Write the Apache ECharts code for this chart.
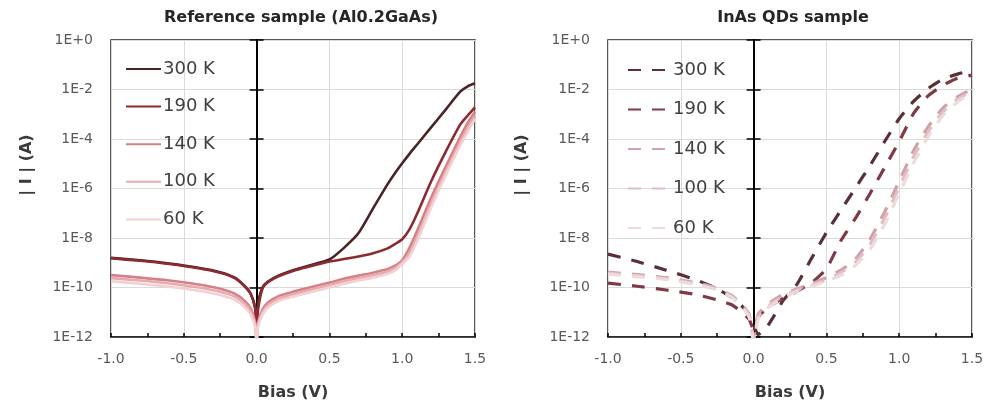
<!DOCTYPE html>
<html>
<head>
<meta charset="utf-8">
<script src="https://cdn.jsdelivr.net/npm/echarts@6/dist/echarts.min.js"></script>
<style>
html,body{margin:0;padding:0;background:#ffffff;}
#chart{width:989px;height:412px;}
</style>
</head>
<body>
<div id="chart"></div>
<script>
// ---------- texts ----------
const panelTitles = ['Reference sample (Al0.2GaAs)', 'InAs QDs sample'];
const xAxisName = 'Bias (V)';
const yAxisName = '| I | (A)';
const tempLabels = ['300 K', '190 K', '140 K', '100 K', '60 K'];

// ---------- left panel: reference sample (bias in V, |I| in A) ----------
const biasRef = [-1.0, -0.8, -0.6, -0.4, -0.25, -0.15, -0.08, -0.04, -0.01, 0.0,
  0.01, 0.04, 0.08, 0.15, 0.25, 0.35, 0.5, 0.6, 0.7, 0.8,
  0.9, 0.95, 1.0, 1.05, 1.1, 1.2, 1.3, 1.4, 1.45, 1.5];
const ref300 = [1.58e-9, 1.26e-9, 9.33e-10, 6.31e-10, 4.17e-10, 2.51e-10, 1.12e-10, 5.62e-11, 1.58e-11, 2.51e-12,
  2.51e-11, 1.0e-10, 1.78e-10, 3.02e-10, 5.01e-10, 7.41e-10, 1.35e-9, 3.98e-9, 1.58e-8, 1.58e-7,
  1.51e-6, 4.17e-6, 1.05e-5, 2.51e-5, 5.75e-5, 3.02e-4, 1.58e-3, 8.32e-3, 1.35e-2, 1.78e-2];
const ref190 = [1.51e-9, 1.2e-9, 8.91e-10, 6.03e-10, 3.98e-10, 2.4e-10, 1.07e-10, 5.37e-11, 1.41e-11, 2.0e-12,
  1.26e-11, 8.91e-11, 1.66e-10, 2.82e-10, 4.68e-10, 6.76e-10, 1.12e-9, 1.41e-9, 1.78e-9, 2.4e-9,
  3.8e-9, 5.62e-9, 8.91e-9, 2.24e-8, 8.91e-8, 2.0e-6, 3.16e-5, 3.98e-4, 8.91e-4, 1.91e-3];
const ref140 = [3.16e-10, 2.51e-10, 1.91e-10, 1.32e-10, 8.91e-11, 5.62e-11, 2.82e-11, 1.41e-11, 3.98e-12, 7.94e-13,
  3.98e-12, 1.26e-11, 2.51e-11, 4.47e-11, 6.76e-11, 9.55e-11, 1.58e-10, 2.24e-10, 3.02e-10, 3.98e-10,
  5.62e-10, 7.59e-10, 1.26e-9, 3.98e-9, 1.78e-8, 4.47e-7, 7.94e-6, 1.26e-4, 4.47e-4, 1.26e-3];
const ref100 = [2.4e-10, 1.91e-10, 1.45e-10, 1.0e-10, 6.76e-11, 4.27e-11, 2.14e-11, 1.07e-11, 3.16e-12, 6.31e-13,
  3.16e-12, 1.0e-11, 2.0e-11, 3.55e-11, 5.37e-11, 7.59e-11, 1.26e-10, 1.78e-10, 2.4e-10, 3.16e-10,
  4.47e-10, 6.03e-10, 1.05e-9, 2.51e-9, 1.0e-8, 2.51e-7, 5.01e-6, 7.94e-5, 2.82e-4, 8.91e-4];
const ref60 = [1.78e-10, 1.41e-10, 1.07e-10, 7.41e-11, 5.01e-11, 3.16e-11, 1.58e-11, 7.94e-12, 2.51e-12, 5.01e-13,
  2.51e-12, 7.94e-12, 1.58e-11, 2.82e-11, 4.27e-11, 6.03e-11, 1.0e-10, 1.41e-10, 1.91e-10, 2.51e-10,
  3.55e-10, 4.79e-10, 8.91e-10, 1.78e-9, 7.08e-9, 1.78e-7, 3.55e-6, 5.62e-5, 2.0e-4, 6.31e-4];

// ---------- right panel: InAs QDs sample ----------
const biasQD = [-1.0, -0.8, -0.6, -0.4, -0.25, -0.15, -0.08, -0.03, 0.0,
  0.03, 0.08, 0.14, 0.2, 0.3, 0.4, 0.5, 0.6, 0.7, 0.8, 0.9, 1.0, 1.1, 1.2, 1.3, 1.4, 1.5];
const qd300 = [2.24e-9, 1.12e-9, 5.01e-10, 2.09e-10, 8.91e-11, 3.98e-11, 1.78e-11, 7.94e-12, 3.16e-12,
  1.26e-12, 2.0e-12, 7.08e-12, 2.82e-11, 1.41e-10, 1.58e-9, 1.66e-8, 1.35e-7, 1.05e-6, 8.51e-6, 7.94e-5,
  6.61e-4, 3.39e-3, 1.12e-2, 2.63e-2, 4.17e-2, 6.03e-2];
const qd190 = [1.51e-10, 1.12e-10, 7.94e-11, 5.25e-11, 3.16e-11, 2.0e-11, 1.0e-11, 5.01e-12, 2.0e-12,
  6.31e-12, 1.26e-11, 2.24e-11, 3.55e-11, 7.08e-11, 1.58e-10, 5.62e-10, 7.94e-9, 6.31e-8, 6.31e-7, 7.08e-6,
  7.94e-5, 1.12e-3, 5.62e-3, 1.48e-2, 2.82e-2, 3.8e-2];
const qd140 = [4.17e-10, 3.31e-10, 2.51e-10, 1.58e-10, 9.33e-11, 4.68e-11, 2.09e-11, 7.94e-12, 1.0e-12,
  7.94e-12, 1.78e-11, 3.16e-11, 5.25e-11, 8.91e-11, 1.41e-10, 2.51e-10, 5.01e-10, 1.41e-9, 8.91e-9, 1.12e-7,
  2.0e-6, 3.55e-5, 3.16e-4, 1.78e-3, 5.01e-3, 1.05e-2];
const qd100 = [3.8e-10, 3.02e-10, 2.29e-10, 1.45e-10, 8.51e-11, 4.27e-11, 1.91e-11, 7.08e-12, 7.94e-13,
  6.31e-12, 1.41e-11, 2.63e-11, 4.47e-11, 7.94e-11, 1.26e-10, 2.09e-10, 3.98e-10, 1.05e-9, 5.62e-9, 6.31e-8,
  1.12e-6, 2.0e-5, 2.0e-4, 1.26e-3, 3.98e-3, 8.91e-3];
const qd60 = [3.47e-10, 2.75e-10, 2.09e-10, 1.32e-10, 7.94e-11, 3.98e-11, 1.74e-11, 6.31e-12, 6.31e-13,
  5.01e-12, 1.26e-11, 2.24e-11, 3.8e-11, 7.08e-11, 1.12e-10, 1.78e-10, 3.16e-10, 7.94e-10, 3.55e-9, 3.55e-8,
  6.31e-7, 1.12e-5, 1.26e-4, 8.91e-4, 3.16e-3, 7.59e-3];

// ---------- axis ranges / tick labels ----------
const xMin = -1.0, xMax = 1.5, xStep = 0.5;
const yMin = 1e-12, yMax = 1;                  // current range (A), log scale
const yExpMin = -12, yExpMax = 0, yExpStep = 2; // decade positions of tick labels (1E-12 ... 1E+0)

// ---------- styling ----------
const FONT = 'DejaVu Sans';
const refColors = ['#4a2326', '#8c2a31', '#d48086', '#e6abae', '#f4d0d2'];
const qdColors = ['#5a3037', '#7f3a46', '#cfa1a9', '#dfbdc3', '#eddadd'];

const refSeriesData = [ref300, ref190, ref140, ref100, ref60];
const qdSeriesData = [qd300, qd190, qd140, qd100, qd60];

function expLabel(e) {
  const n = Math.round(e);
  return '1E' + (n >= 0 ? '+' + Math.abs(n) : String(n));
}

function xAxisFor(gi) {
  return {
    gridIndex: gi, type: 'value', min: xMin, max: xMax, interval: xStep, position: 'bottom',
    axisLine: { show: true, onZero: false, lineStyle: { color: '#1f1f1f', width: 1.5 } },
    axisTick: { show: true, inside: true, length: 4, lineStyle: { color: '#000', width: 1.5 } },
    minorTick: { show: true, splitNumber: 2, length: 4, lineStyle: { color: '#000', width: 1.5 } },
    axisLabel: { formatter: v => v.toFixed(1), color: '#595959', fontSize: 14, margin: 15, fontFamily: FONT },
    splitLine: { show: true, lineStyle: { color: '#dadada', width: 1 } },
    name: xAxisName, nameLocation: 'middle', nameGap: 48,
    nameTextStyle: { fontWeight: 'bold', fontSize: 16, color: '#3a3a3a', fontFamily: FONT }
  };
}
// log axis that carries the data (drawn invisibly)
function yAxisData(gi) {
  return {
    gridIndex: gi, type: 'log', logBase: 10, min: yMin, max: yMax, position: 'left',
    axisLine: { show: false, onZero: false }, axisTick: { show: false },
    axisLabel: { show: false }, splitLine: { show: false }
  };
}
// decade axis used for labels and grid lines (same pixel mapping)
function yAxisLabels(gi) {
  return {
    gridIndex: gi, type: 'value', min: yExpMin, max: yExpMax, interval: yExpStep, position: 'left',
    axisLine: { show: false, onZero: false },
    axisTick: { show: false },
    axisLabel: { formatter: expLabel, color: '#595959', fontSize: 14, margin: 18, fontFamily: FONT },
    splitLine: { show: true, lineStyle: { color: '#dadada', width: 1 } }
  };
}
// vertical line at 0 V with crossing ticks
function yAxisZero(gi, xi, inside) {
  return {
    gridIndex: gi, type: 'value', min: yExpMin, max: yExpMax, interval: yExpStep, position: 'left',
    axisLine: { show: true, onZero: true, onZeroAxisIndex: xi, lineStyle: { color: '#000', width: 2 } },
    axisTick: { show: true, inside: inside, length: 7, lineStyle: { color: '#000', width: 1.5 } },
    axisLabel: { show: false },
    splitLine: { show: false }
  };
}

const series = [];
refSeriesData.forEach((arr, k) => {
  series.push({
    name: tempLabels[k], type: 'line', xAxisIndex: 0, yAxisIndex: 0,
    data: biasRef.map((b, i) => [b, arr[i]]),
    showSymbol: false, symbol: 'none', smooth: 0.2,
    lineStyle: { color: refColors[k], width: 2.6 }, itemStyle: { color: refColors[k] },
    z: 3
  });
});
qdSeriesData.forEach((arr, k) => {
  series.push({
    name: tempLabels[k] + ' ', type: 'line', xAxisIndex: 1, yAxisIndex: 4,
    data: biasQD.map((b, i) => [b, arr[i]]),
    showSymbol: false, symbol: 'none', smooth: 0.15,
    lineStyle: { color: qdColors[k], width: 3.2, type: [13, 11] }, itemStyle: { color: qdColors[k] },
    z: 3
  });
});

const legendText = { fontSize: 18, color: '#404040', fontFamily: FONT, padding: [0, 0, 0, -3] };

const gridBase = { top: 40, bottom: 75, show: true, borderColor: '#1f1f1f', borderWidth: 1.5,
  backgroundColor: 'transparent', containLabel: false, outerBoundsMode: 'none' };

const option = {
  animation: false,
  backgroundColor: '#ffffff',
  grid: [
    Object.assign({ left: 111, right: 514 }, gridBase),
    Object.assign({ left: 608, right: 17 }, gridBase)
  ],
  xAxis: [xAxisFor(0), xAxisFor(1)],
  yAxis: [yAxisData(0), yAxisLabels(0), yAxisZero(0, 0, false), yAxisZero(0, 0, true),
          yAxisData(1), yAxisLabels(1), yAxisZero(1, 1, false), yAxisZero(1, 1, true)],
  legend: [
    { data: tempLabels, orient: 'vertical', left: 125, top: 60, padding: 0, itemWidth: 35, itemHeight: 14, itemGap: 19.6,
      textStyle: legendText, selectedMode: false, itemStyle: { opacity: 0 } },
    { data: tempLabels.map(t => t + ' '), orient: 'vertical', left: 627, top: 61, padding: 0, itemWidth: 43, itemHeight: 14, itemGap: 21.5,
      textStyle: legendText, selectedMode: false, itemStyle: { opacity: 0 } }
  ],
  graphic: [
    { type: 'text', x: 301, y: 18, style: { text: panelTitles[0], font: 'bold 16px "DejaVu Sans"', fill: '#262626', align: 'center', verticalAlign: 'middle' } },
    { type: 'text', x: 793, y: 18, style: { text: panelTitles[1], font: 'bold 16px "DejaVu Sans"', fill: '#262626', align: 'center', verticalAlign: 'middle' } },
    { type: 'text', x: 27, y: 165, rotation: Math.PI / 2, style: { text: yAxisName, font: 'bold 16px "DejaVu Sans"', fill: '#3a3a3a', align: 'center', verticalAlign: 'middle' } },
    { type: 'text', x: 522, y: 165, rotation: Math.PI / 2, style: { text: yAxisName, font: 'bold 16px "DejaVu Sans"', fill: '#3a3a3a', align: 'center', verticalAlign: 'middle' } }
  ],
  series: series
};

const chart = echarts.init(document.getElementById('chart'), null, { renderer: 'canvas' });
chart.setOption(option);
</script>
</body>
</html>
